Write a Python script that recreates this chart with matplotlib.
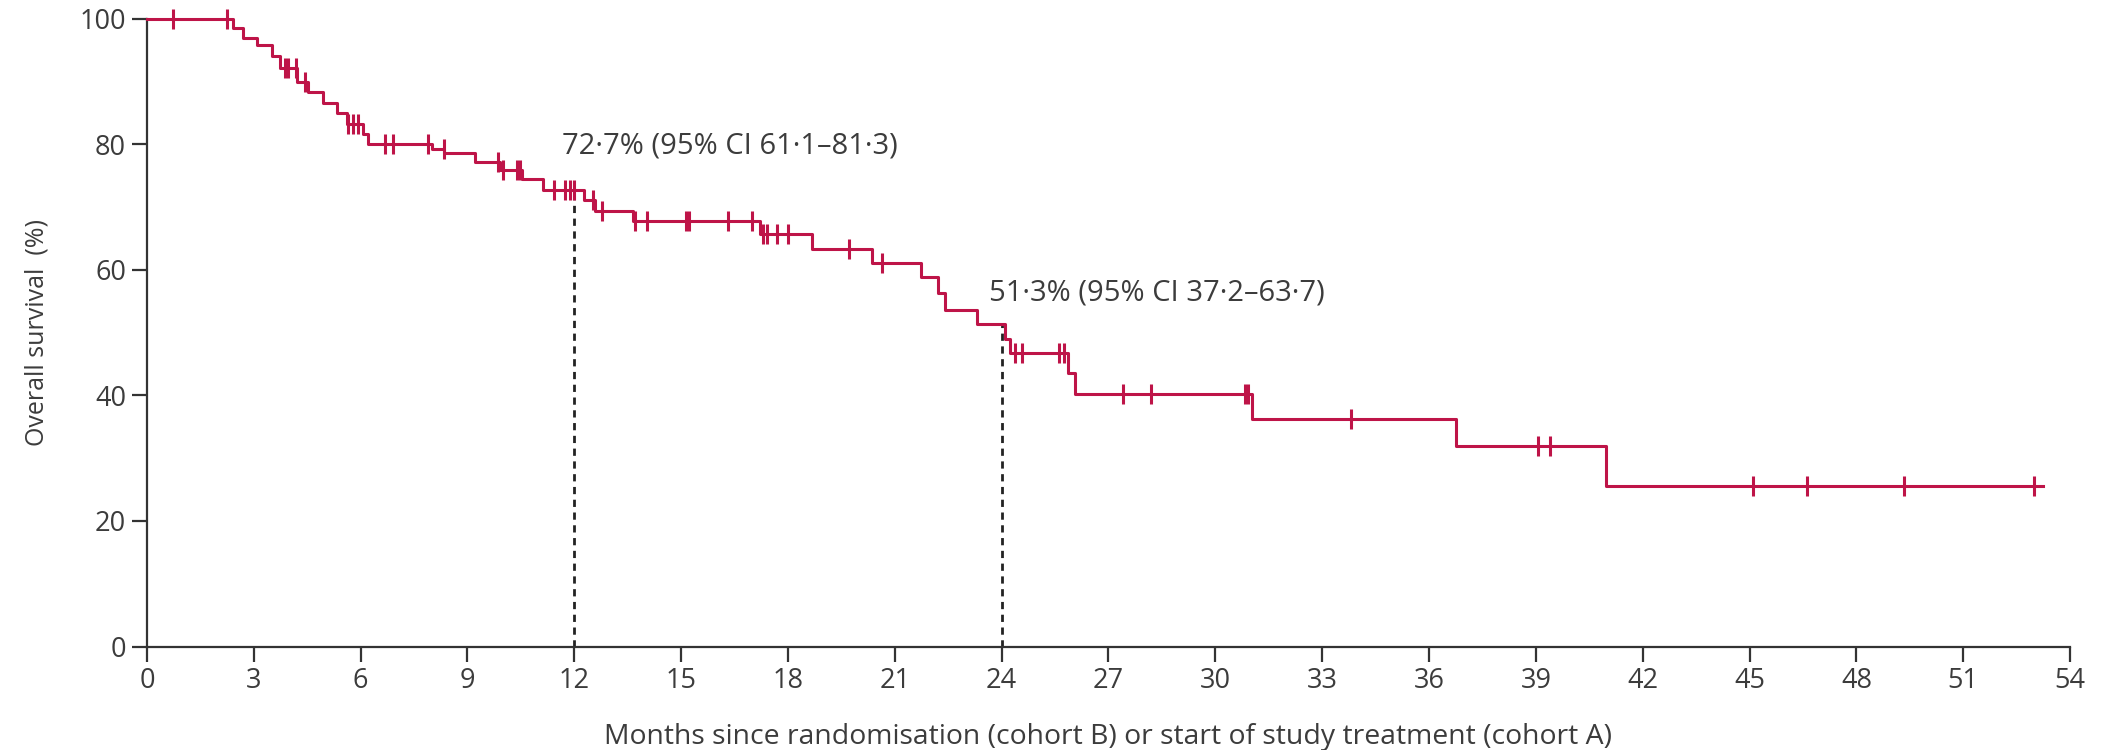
import numpy as np
import matplotlib.pyplot as plt

# -----------------------------
# Data
# -----------------------------
# event times (months) and survival level (%) after each step
step_times = [0, 2.43, 2.71, 3.08, 3.50, 3.74, 4.20, 4.53, 4.95, 5.33, 5.62,
              6.08, 6.22, 8.00, 8.35, 9.21, 9.92, 10.52, 11.13, 12.28, 12.58,
              13.66, 17.21, 18.68, 20.36, 21.74, 22.21, 22.41, 23.30, 24.08,
              24.23, 25.85, 26.05, 31.03, 36.76, 40.98]
step_surv = [100, 98.5, 97.0, 95.8, 94.0, 92.2, 90.0, 88.3, 86.6, 85.0, 83.3,
             81.6, 80.1, 79.3, 78.6, 77.2, 75.9, 74.5, 72.7, 71.2, 69.4,
             67.8, 65.7, 63.4, 61.1, 58.8, 56.3, 53.6, 51.3, 49.0,
             46.7, 43.5, 40.3, 36.2, 31.9, 25.5]
last_followup = 53.23

# censored observations (months)
censor_times = [0.74, 2.24, 3.88, 3.97, 4.19, 4.44, 5.66, 5.80, 5.94, 6.69,
                6.92, 7.90, 8.33, 9.87, 10.01, 10.38, 10.48, 11.44, 11.74,
                11.89, 11.99, 12.53, 12.77, 13.71, 14.05, 15.15, 15.22, 16.32,
                17.00, 17.30, 17.40, 17.70, 17.99, 19.72, 20.65, 24.38, 24.57,
                25.61, 25.76, 27.40, 28.20, 30.83, 30.93, 33.82, 39.05, 39.41,
                45.10, 46.60, 49.34, 53.00]

landmark_months = [12, 24]
landmark_surv = [72.7, 51.3]
landmark_text = ["72·7% (95% CI 61·1–81·3)", "51·3% (95% CI 37·2–63·7)"]

x_ticks = list(range(0, 55, 3))
y_ticks = [0, 20, 40, 60, 80, 100]

# -----------------------------
# Style
# -----------------------------
plt.rcParams['font.family'] = ['Open Sans', 'DejaVu Sans']
red = '#BE1448'
grey = '#3c3c3c'

fig = plt.figure(figsize=(21.08, 7.5), dpi=100)
ax = fig.add_axes([0.0697, 0.138, 0.9123, 0.837])

# -----------------------------
# KM curve
# -----------------------------
xs = step_times + [last_followup]
ys = step_surv + [step_surv[-1]]
ax.step(xs, ys, where='post', color=red, lw=2.2, clip_on=False, zorder=3)

# censor ticks placed on the curve
idx = np.searchsorted(step_times, censor_times, side='right') - 1
censor_surv = [step_surv[i] for i in idx]
ax.plot(censor_times, censor_surv, ls='none', marker='|', ms=14, mew=2.2,
        color=red, clip_on=False, zorder=4)

# landmark lines and labels
for m, s, txt, dx, dy in zip(landmark_months, landmark_surv, landmark_text,
                             [-0.35, -0.35], [7.0, 5.0]):
    ax.plot([m, m], [0, s], color='#222222', lw=2.0, ls=(0, (2.6, 2.0)), zorder=2)
    ax.text(m + dx, s + dy, txt, fontsize=21, color=grey, ha='left', va='center')

# -----------------------------
# Axes
# -----------------------------
ax.set_xlim(0, 54)
ax.set_ylim(0, 100)
ax.set_xticks(x_ticks)
ax.set_yticks(y_ticks)
for side in ['top', 'right']:
    ax.spines[side].set_visible(False)
for side in ['left', 'bottom']:
    ax.spines[side].set_linewidth(1.6)
    ax.spines[side].set_color('#333333')
ax.tick_params(length=11, width=1.6, color='#333333', labelsize=19.5,
               labelcolor=grey, pad=4)

ax.set_xlabel("Months since randomisation (cohort B) or start of study treatment (cohort A)",
              fontsize=20.4, color=grey, labelpad=20)
ax.set_ylabel("Overall survival  (%)", fontsize=18, color=grey, labelpad=22)

plt.savefig("out.png", dpi=100)
plt.close()
